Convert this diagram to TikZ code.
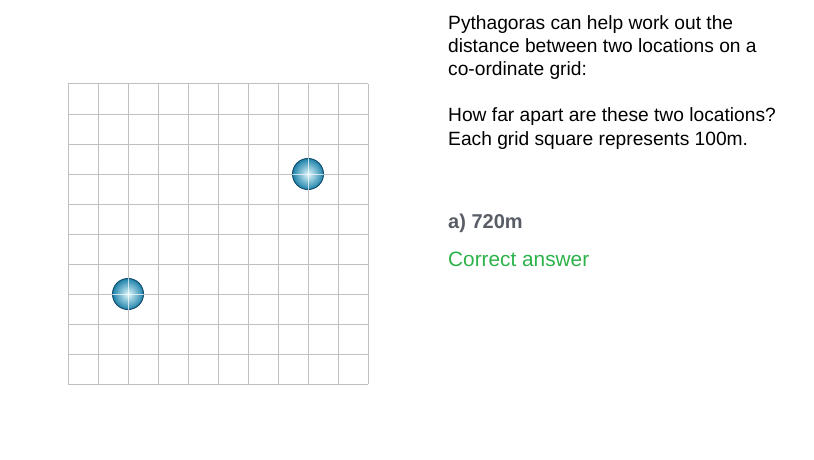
\documentclass[tikz,border=0pt]{standalone}
\usepackage{fontspec}
\setmainfont{Liberation Sans}
\usetikzlibrary{positioning}
\definecolor{gridgrey}{RGB}{192,192,192}
\definecolor{answergrey}{RGB}{88,92,100}
\definecolor{rightgreen}{RGB}{44,178,74}
\definecolor{balledge}{RGB}{20,80,110}
\definecolor{ballouter}{RGB}{30,130,170}
\definecolor{ballinner}{RGB}{225,248,252}
\tikzset{
  qtext/.style={anchor=base west, align=left, inner sep=0pt,
    font=\fontsize{19.2}{23.3}\selectfont},
  location/.style={circle, minimum size=31pt, inner sep=0pt, draw=balledge,
    line width=1pt, inner color=ballinner, outer color=ballouter},
}
\begin{document}
\begin{tikzpicture}[x=1pt,y=-1pt]
  \useasboundingbox (0,0) rectangle (814,460);

  % grid
  \foreach \k in {0,...,10}{
    \draw[gridgrey, line width=1pt] (68+30*\k,84) -- (68+30*\k,384);
    \draw[gridgrey, line width=1pt] (68,84+30*\k) -- (368,84+30*\k);
  }

  % the two locations
  \node[location] (p1) at (308,174) {};
  \node[location] (p2) at (128,294) {};
  \draw[white, opacity=.7, line width=.8pt] (p1.west) -- (p1.east) (p1.north) -- (p1.south);
  \draw[white, opacity=.7, line width=.8pt] (p2.west) -- (p2.east) (p2.north) -- (p2.south);

  % question (base = last line)
  \node[qtext] (intro) at (448,76)
    {Pythagoras can help work out the\\distance between two locations on a\\co-ordinate grid:};
  \node[qtext] (ask) at (448,145)
    {How far apart are these two locations?\\Each grid square represents 100m.};
  \node[qtext, font=\fontsize{20}{23}\selectfont\bfseries, text=answergrey] (ans) at (448,228) {a) 720m};
  \node[qtext, font=\fontsize{20.8}{24}\selectfont, text=rightgreen] (ok) at (448,266) {Correct answer};
\end{tikzpicture}
\end{document}
